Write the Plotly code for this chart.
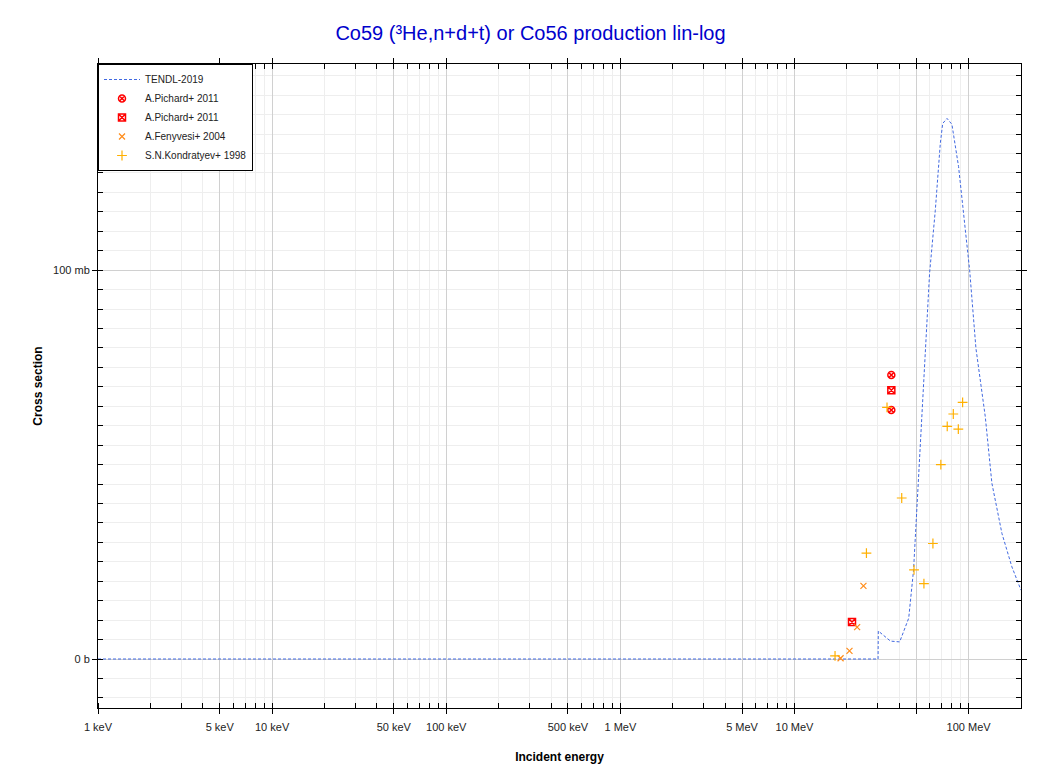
import plotly.graph_objects as go

# TENDL-2019 evaluation (energy in MeV, cross section in mb)
tendl_e = [0.001, 30.2, 30.3, 35.6, 40.2, 45.3, 48.3, 50.6, 52.9, 55.2, 56.9, 59.7, 64.4,
           68.8, 71.0, 75.2, 80.2, 87.6, 95.8, 101.4, 110.2, 124.7, 136.1, 155.4, 177.3, 200.0]
tendl_v = [0, 0, 7.2, 4.6, 4.4, 10.5, 22.9, 39.2, 53.7, 70.9, 79.9, 99.2, 115.4,
           132.6, 137.7, 139.0, 137.5, 126.6, 110.3, 100.0, 79.9, 62.3, 45.2, 32.3, 23.7, 17.7]

pich1_e = [36.0, 36.0]
pich1_v = [73.0, 64.0]

pich2_e = [21.4, 36.0]
pich2_v = [9.5, 69.1]

feny_e = [18.4, 20.7, 22.9, 24.9]
feny_v = [0.2, 2.1, 8.2, 18.8]

kond_e = [17.1, 25.9, 34.0, 41.3, 48.6, 55.4, 62.4, 69.3, 75.4, 81.7, 87.3, 92.4]
kond_v = [0.8, 27.2, 64.7, 41.4, 22.9, 19.4, 29.7, 50.0, 59.8, 63.0, 59.1, 66.0]

x_tickvals = [0.001, 0.005, 0.01, 0.05, 0.1, 0.5, 1, 5, 10, 50, 100]
x_ticktext = ["1 keV", "5 keV", "10 keV", "50 keV", "100 keV", "500 keV", "1 MeV",
              "5 MeV", "10 MeV", "", "100 MeV"]
y_tickvals = [0, 100]
y_ticktext = ["0 b", "100 mb"]

fig = go.Figure()
fig.add_trace(go.Scatter(x=tendl_e, y=tendl_v, mode="lines", name="TENDL-2019",
                         line=dict(color="#4169E1", width=1, dash="3px,2px")))
fig.add_trace(go.Scatter(x=pich1_e, y=pich1_v, mode="markers", name="A.Pichard+ 2011",
                         marker=dict(symbol="circle-x-open", color="#FF0000", size=7,
                                     line=dict(width=1.5, color="#FF0000"))))
fig.add_trace(go.Scatter(x=pich2_e, y=pich2_v, mode="markers", name="A.Pichard+ 2011",
                         marker=dict(symbol="square-x-open", color="#FF0000", size=7,
                                     line=dict(width=1.5, color="#FF0000"))))
fig.add_trace(go.Scatter(x=feny_e, y=feny_v, mode="markers", name="A.Fenyvesi+ 2004",
                         marker=dict(symbol="x-thin-open", color="#FF8C1A", size=6,
                                     line=dict(width=1.2, color="#FF8C1A"))))
fig.add_trace(go.Scatter(x=kond_e, y=kond_v, mode="markers", name="S.N.Kondratyev+ 1998",
                         marker=dict(symbol="cross-thin-open", color="#FFB000", size=7,
                                     line=dict(width=1.2, color="#FFB000"))))

fig.update_layout(
    width=1045, height=765,
    paper_bgcolor="white", plot_bgcolor="white",
    margin=dict(l=90, r=32, t=56, b=65),
    font=dict(family="Liberation Sans, Arial, sans-serif", size=11, color="#222"),
    title=dict(text="Co59 (³He,n+d+t) or Co56 production lin-log", x=0.5, xanchor="center",
               y=0.967, yanchor="middle",
               font=dict(size=20, color="#0000CC", family="Liberation Sans, Arial, sans-serif")),
    showlegend=True,
    legend=dict(x=0, y=1, xanchor="left", yanchor="top", bgcolor="white",
                bordercolor="black", borderwidth=1, font=dict(size=10, color="#222"),
                tracegroupgap=0, itemwidth=36),
)

fig.update_xaxes(
    type="log", range=[-3, 2.30103], automargin=False,
    tickvals=x_tickvals, ticktext=x_ticktext,
    ticks="outside", ticklen=5, tickcolor="black", ticklabelstandoff=4,
    showline=True, linecolor="black", linewidth=1, mirror="ticks",
    showgrid=True, gridcolor="#D0D0D0", gridwidth=1, zeroline=False,
    minor=dict(dtick="D1", ticks="inside", ticklen=5, tickcolor="black",
               showgrid=True, gridcolor="#EEEEEE", gridwidth=1),
    title=dict(text="<b>Incident energy</b>", font=dict(size=12, color="black"), standoff=20),
)
fig.update_yaxes(
    range=[-12.6, 153], automargin=False,
    tickvals=y_tickvals, ticktext=y_ticktext,
    ticks="outside", ticklen=5, tickcolor="black",
    showline=True, linecolor="black", linewidth=1, mirror="ticks",
    showgrid=True, gridcolor="#D0D0D0", gridwidth=1, zeroline=False,
    minor=dict(dtick=5, tick0=0, ticks="inside", ticklen=5, tickcolor="black",
               showgrid=True, gridcolor="#EEEEEE", gridwidth=1),
    title=dict(text="<b>Cross section</b>", font=dict(size=12, color="black"), standoff=7),
)

fig.write_html("out.html")
